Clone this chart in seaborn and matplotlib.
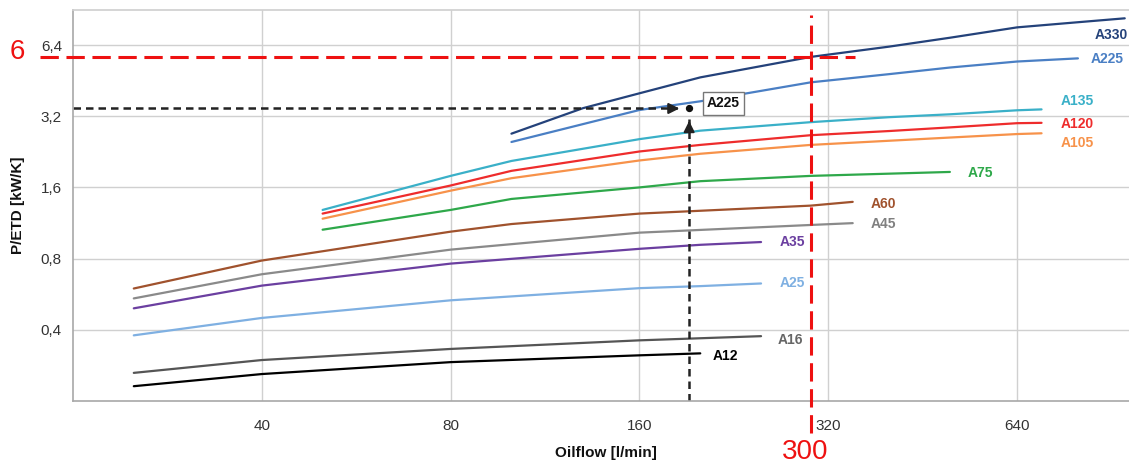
"""Oil cooler performance chart: P/ETD versus oil flow for the A-series."""

import matplotlib.pyplot as plt
import pandas as pd
import seaborn as sns
from matplotlib.ticker import FixedLocator, NullLocator

# Curves (oil flow in l/min, P/ETD in kW/K)
flow_a12 = [25, 40, 80, 160, 200]
ped_a12 = [0.231, 0.260, 0.292, 0.312, 0.318]
flow_a16 = [25, 40, 80, 160, 250]
ped_a16 = [0.263, 0.298, 0.332, 0.361, 0.376]
flow_a25 = [25, 40, 80, 160, 200, 250]
ped_a25 = [0.379, 0.449, 0.533, 0.600, 0.612, 0.628]
flow_a35 = [25, 40, 80, 160, 200, 250]
ped_a35 = [0.493, 0.615, 0.762, 0.880, 0.915, 0.940]
flow_a45 = [25, 40, 80, 160, 300, 350]
ped_a45 = [0.543, 0.687, 0.873, 1.03, 1.11, 1.13]
flow_a60 = [25, 40, 80, 100, 160, 300, 350]
ped_a60 = [0.598, 0.785, 1.04, 1.12, 1.24, 1.34, 1.39]
flow_a75 = [50, 80, 100, 160, 200, 300, 500]
ped_a75 = [1.06, 1.285, 1.43, 1.60, 1.70, 1.79, 1.86]
flow_a105 = [50, 80, 100, 160, 200, 300, 400, 500, 640, 700]
ped_a105 = [1.18, 1.55, 1.75, 2.08, 2.22, 2.42, 2.52, 2.60, 2.69, 2.71]
flow_a120 = [50, 80, 100, 160, 200, 300, 400, 500, 640, 700]
ped_a120 = [1.24, 1.63, 1.88, 2.27, 2.42, 2.66, 2.77, 2.87, 2.99, 3.00]
flow_a135 = [50, 80, 100, 160, 200, 300, 400, 500, 640, 700]
ped_a135 = [1.285, 1.79, 2.07, 2.56, 2.78, 3.02, 3.17, 3.26, 3.39, 3.42]
flow_a225 = [100, 160, 200, 300, 400, 500, 640, 800]
ped_a225 = [2.49, 3.40, 3.70, 4.45, 4.82, 5.14, 5.45, 5.62]
flow_a330 = [100, 130, 160, 200, 300, 400, 500, 640, 800, 950]
ped_a330 = [2.70, 3.46, 4.00, 4.67, 5.70, 6.30, 6.87, 7.60, 7.99, 8.30]

models = ['A12', 'A16', 'A25', 'A35', 'A45', 'A60',
          'A75', 'A105', 'A120', 'A135', 'A225', 'A330']
flows = [flow_a12, flow_a16, flow_a25, flow_a35, flow_a45, flow_a60,
         flow_a75, flow_a105, flow_a120, flow_a135, flow_a225, flow_a330]
peds = [ped_a12, ped_a16, ped_a25, ped_a35, ped_a45, ped_a60,
        ped_a75, ped_a105, ped_a120, ped_a135, ped_a225, ped_a330]

x_ticks = [40, 80, 160, 320, 640]
y_ticks = [0.4, 0.8, 1.6, 3.2, 6.4]
y_tick_labels = ['0,4', '0,8', '1,6', '3,2', '6,4']

# Selection example and the requested operating point
sel_flow = 192
sel_ped = 3.45
sel_label = 'A225'
req_flow = 300
req_ped = 5.7

colors = {
    'A12': '#000000', 'A16': '#555555', 'A25': '#7fb0e2', 'A35': '#6b3fa0',
    'A45': '#8a8a8a', 'A60': '#a0522d', 'A75': '#2ea84a', 'A105': '#f7924a',
    'A120': '#ee2c2c', 'A135': '#3ab0c8', 'A225': '#4a7fc4', 'A330': '#24427a',
}
label_colors = dict(colors, A16='#666666', A45='#808080')
# label offsets from each curve end, in pixels
label_offsets = {
    'A12': (12, -3), 'A16': (17, -4), 'A25': (19, 0), 'A35': (19, 0),
    'A45': (18, -1), 'A60': (18, -2), 'A75': (18, -1), 'A105': (19, -10),
    'A120': (19, -1), 'A135': (19, 8), 'A225': (13, -1), 'A330': (-30, -17),
}


def build_frame() -> pd.DataFrame:
    rows = []
    for name, xs, ys in zip(models, flows, peds):
        for x, y in zip(xs, ys):
            rows.append({'model': name, 'flow': x, 'ped': y})
    return pd.DataFrame(rows)


def main() -> None:
    df = build_frame()

    sns.set_theme(style='whitegrid')
    plt.rcParams['font.family'] = ['Liberation Sans', 'DejaVu Sans']

    fig = plt.figure(figsize=(11.29, 4.68), dpi=100)
    ax = fig.add_axes([73 / 1129, 67 / 468, 1056 / 1129, 391 / 468])

    sns.lineplot(data=df, x='flow', y='ped', hue='model', palette=colors,
                 hue_order=models, estimator=None, sort=True, legend=False,
                 linewidth=1.6, ax=ax)

    ax.set_xscale('log')
    ax.set_yscale('log')
    ax.set_xlim(20, 965)
    ax.set_ylim(0.2, 9.0)
    ax.xaxis.set_major_locator(FixedLocator(x_ticks))
    ax.xaxis.set_minor_locator(NullLocator())
    ax.yaxis.set_major_locator(FixedLocator(y_ticks))
    ax.yaxis.set_minor_locator(NullLocator())
    ax.set_xticklabels([str(t) for t in x_ticks])
    ax.set_yticklabels(y_tick_labels)
    ax.tick_params(axis='x', length=0, pad=13, labelsize=11, labelcolor='#333333')
    ax.tick_params(axis='y', length=0, pad=8, labelsize=11, labelcolor='#333333')
    ax.grid(True, color='#d0d0d0', linewidth=1.0)
    ax.set_xlabel('')
    ax.set_ylabel('')
    ax.set_facecolor('white')
    for side in ['left', 'bottom']:
        ax.spines[side].set_color('#a8a8a8')
        ax.spines[side].set_linewidth(1.2)
    ax.spines['top'].set_color('#d0d0d0')
    ax.spines['right'].set_visible(False)

    # curve labels
    for name, xs, ys in zip(models, flows, peds):
        dx, dy = label_offsets[name]
        ax.annotate(name, xy=(xs[-1], ys[-1]), xytext=(dx, dy),
                    textcoords='offset pixels', ha='left', va='center',
                    fontsize=10, fontweight='bold', color=label_colors[name])

    # selection example: dashed guides with arrow heads
    dash_kw = dict(color='#222222', linewidth=1.8, linestyle=(0, (3, 2)))
    ax.plot([20, sel_flow * 0.955], [sel_ped, sel_ped], **dash_kw)
    ax.plot([sel_flow, sel_flow], [0.2, sel_ped * 0.9], **dash_kw)
    ax.annotate('', xy=(sel_flow * 0.975, sel_ped), xytext=(sel_flow * 0.93, sel_ped),
                arrowprops=dict(arrowstyle='-|>', color='#222222', lw=1.5,
                                mutation_scale=16))
    ax.annotate('', xy=(sel_flow, sel_ped * 0.91), xytext=(sel_flow, sel_ped * 0.83),
                arrowprops=dict(arrowstyle='-|>', color='#222222', lw=1.5,
                                mutation_scale=16))
    ax.scatter([sel_flow], [sel_ped], s=18, color='#111111', zorder=5)
    ax.annotate(sel_label, xy=(sel_flow, sel_ped), xytext=(18, 5),
                textcoords='offset pixels', ha='left', va='center',
                fontsize=10, fontweight='bold', color='#111111',
                bbox=dict(boxstyle='square,pad=0.3', fc='white',
                          ec='#777777', lw=1.0))

    # requested operating point (red)
    red_kw = dict(color='#ee1111', linewidth=2.2, linestyle=(0, (6, 2.5)),
                  clip_on=False, zorder=6)
    ax.plot([17.7, 353], [req_ped, req_ped], **red_kw)
    ax.plot([req_flow, req_flow], [0.147, 8.6], **red_kw)

    fig.text(17 / 1129, 1 - 52 / 468, '6', color='#ee1111', fontsize=20,
             ha='center', va='center')
    fig.text(805 / 1129, 1 - 452 / 468, '300', color='#ee1111', fontsize=20,
             ha='center', va='center')

    fig.text(606 / 1129, 1 - 453 / 468, 'Oilflow [l/min]', fontsize=11,
             fontweight='bold', ha='center', va='center', color='#111111')
    fig.text(18 / 1129, 1 - 205 / 468, 'P/ETD [kW/K]', fontsize=11,
             fontweight='bold', ha='center', va='center', rotation=90,
             color='#111111')

    fig.savefig('out.png', dpi=100, facecolor='white')


if __name__ == '__main__':
    main()
